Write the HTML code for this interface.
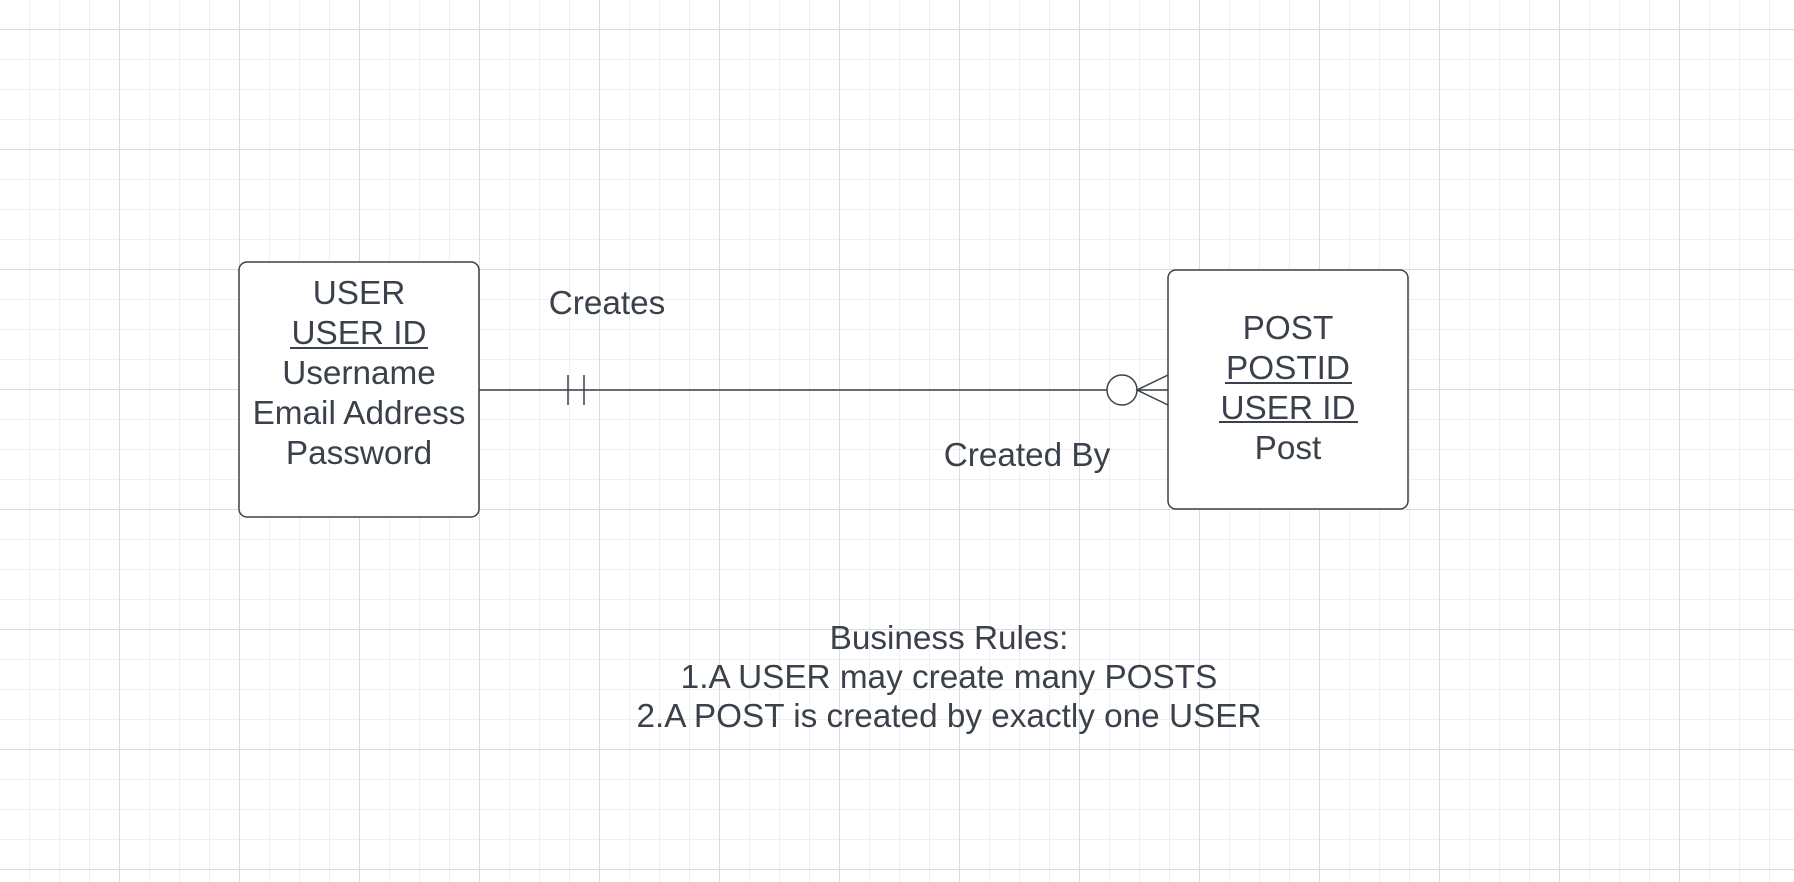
<!DOCTYPE html>
<html><head><meta charset="utf-8"><style>
html,body{margin:0;padding:0;background:#fff;}
svg{display:block;}
text{font-family:"Liberation Sans",Arial,sans-serif;font-size:33.3px;fill:#3a414a;text-anchor:middle;}
</style></head><body>
<svg width="1794" height="882" viewBox="0 0 1794 882" xmlns="http://www.w3.org/2000/svg">
<defs>
<pattern id="minor" width="30" height="30" patternUnits="userSpaceOnUse" x="-1" y="29">
<path d="M0.5 0V30M0 0.5H30" stroke="#efefef" stroke-width="1" fill="none"/>
</pattern>
<pattern id="major" width="120" height="120" patternUnits="userSpaceOnUse" x="-1" y="29">
<path d="M0.5 0V120M0 0.5H120" stroke="#dcdcdc" stroke-width="1" fill="none"/>
</pattern>
</defs>
<rect width="1794" height="882" fill="#fff"/>
<rect width="1794" height="882" fill="url(#minor)"/>
<rect width="1794" height="882" fill="url(#major)"/>

<line x1="479" y1="390" x2="1107" y2="390" stroke="#3a414a" stroke-width="1.5"/>
<line x1="568" y1="375" x2="568" y2="405" stroke="#3a414a" stroke-width="1.5"/>
<line x1="584" y1="375" x2="584" y2="405" stroke="#3a414a" stroke-width="1.5"/>
<circle cx="1122" cy="390" r="15" fill="#fff" stroke="#3a414a" stroke-width="1.5"/>
<path d="M1168 375L1137 390L1168 405M1137 390H1168" stroke="#3a414a" stroke-width="1.5" fill="none"/>

<rect x="239" y="262" width="240" height="255" rx="8" fill="#fff" stroke="#3a414a" stroke-width="1.5"/>
<text x="359" y="304">USER</text>
<text x="359" y="344">USER ID</text>
<line x1="290" y1="348" x2="428" y2="348" stroke="#3a414a" stroke-width="2"/>
<text x="359" y="384">Username</text>
<text x="359" y="424">Email Address</text>
<text x="359" y="464">Password</text>

<rect x="1168" y="270" width="240" height="239" rx="8" fill="#fff" stroke="#3a414a" stroke-width="1.5"/>
<text x="1288" y="339">POST</text>
<text x="1288" y="379">POSTID</text>
<line x1="1225" y1="383" x2="1352" y2="383" stroke="#3a414a" stroke-width="2"/>
<text x="1288" y="419">USER ID</text>
<line x1="1219" y1="422" x2="1358" y2="422" stroke="#3a414a" stroke-width="2"/>
<text x="1288" y="459">Post</text>

<text x="607" y="314">Creates</text>
<text x="1027" y="466">Created By</text>

<text x="949" y="649">Business Rules:</text>
<text x="949" y="688">1.A USER may create many POSTS</text>
<text x="949" y="727">2.A POST is created by exactly one USER</text>
</svg>
</body></html>
